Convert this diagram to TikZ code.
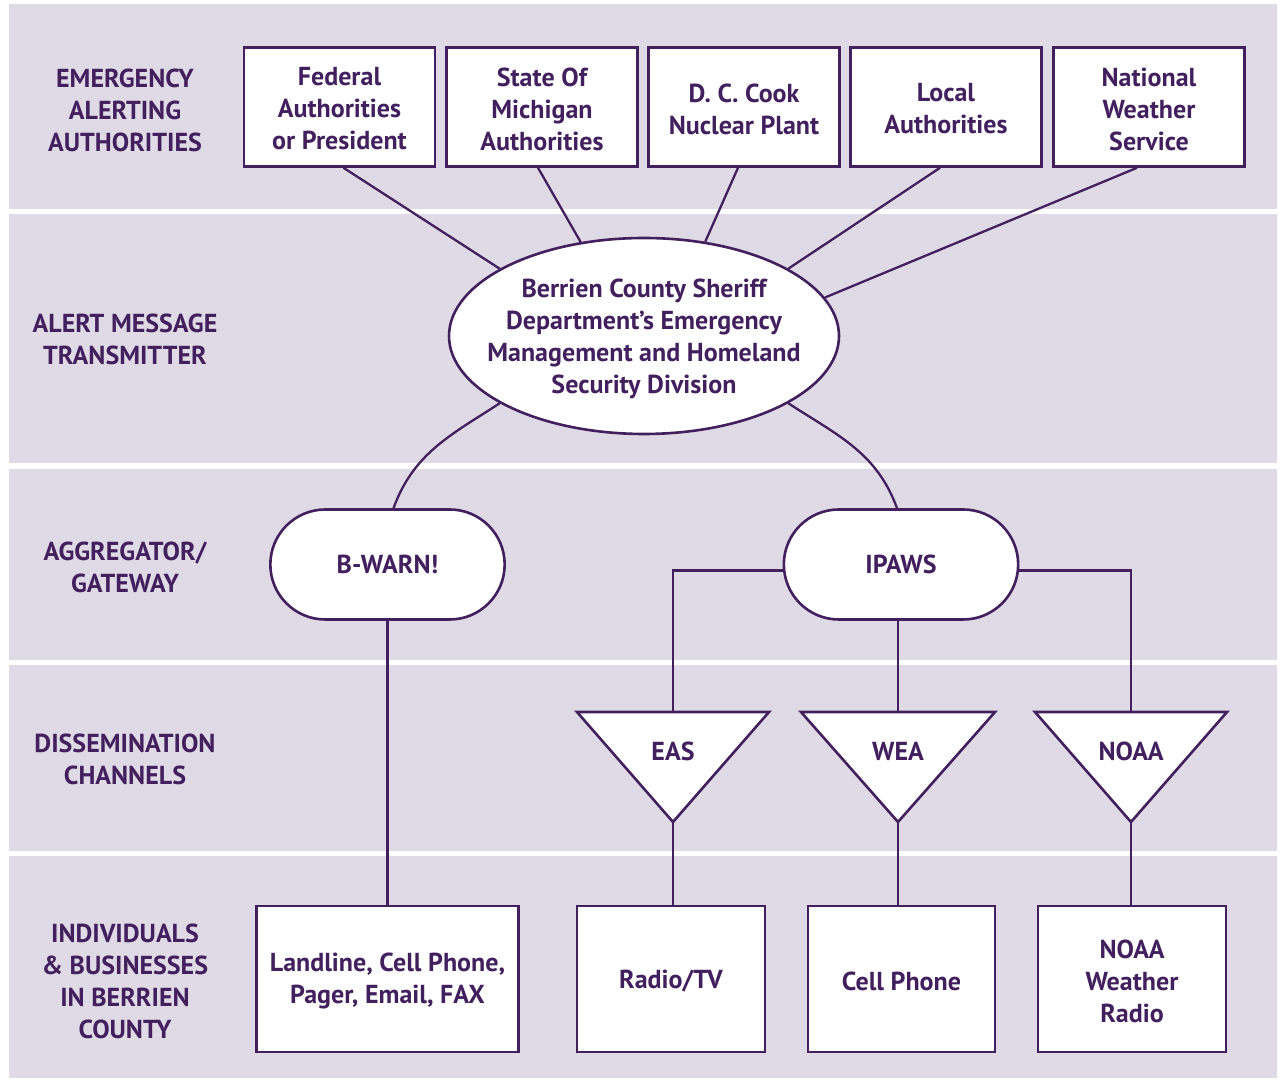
\documentclass[tikz,border=0pt]{standalone}
\usepackage{fontspec}
\setmainfont{PT Sans}
\usetikzlibrary{shapes.geometric,shapes.misc}
\definecolor{purp}{HTML}{42205E}
\definecolor{band}{HTML}{E0DAE6}
\begin{document}
\begin{tikzpicture}[x=1pt, y=1pt,
  every node/.style = {text=purp, font=\fontsize{26}{32}\selectfont\bfseries, align=center},
  box/.style = {rectangle, draw=purp, fill=white, line width=2.6pt, minimum width=#1, minimum height=119pt, inner sep=0pt},
  box/.default = 191pt,
  endbox/.style = {box=#1, minimum height=146pt},
  gate/.style = {rounded rectangle, draw=purp, fill=white, line width=2.6pt, minimum width=241pt, minimum height=110pt},
  oval/.style = {ellipse, draw=purp, fill=white, line width=2.6pt, minimum width=390pt, minimum height=196pt, inner sep=0pt},
  chan/.style = {draw=purp, fill=white, line width=2.6pt, line join=miter},
  link/.style = {draw=purp, line width=2.3pt}]

% Bands
\fill[white] (0,0) rectangle (1282,1081);
\fill[band] (9,872) rectangle (1277,1077);
\fill[band] (9,618) rectangle (1277,867);
\fill[band] (9,421) rectangle (1277,612);
\fill[band] (9,230) rectangle (1277,416);
\fill[band] (9,3) rectangle (1277,225);
\useasboundingbox (0,0) rectangle (1282,1081);

% Row labels
\node (rowauth) at (125,971) {EMERGENCY\\ALERTING\\AUTHORITIES};
\node (rowtrans) at (125,742) {ALERT MESSAGE\\TRANSMITTER};
\node (rowgate) at (125,514) {AGGREGATOR/\\GATEWAY};
\node (rowchan) at (125,322) {DISSEMINATION\\CHANNELS};
\node (rowpeople) at (125,100) {INDIVIDUALS\\\& BUSINESSES\\IN BERRIEN\\COUNTY};

% Authorities
\node[box] (federal) at (339.5,974) {};
\node[box] (state) at (542,974) {};
\node[box] (cook) at (744,974) {};
\node[box] (local) at (946,974) {};
\node[box] (nws) at (1149,974) {};
\node (federaltext) at ([yshift=-2pt]federal.center) {Federal\\Authorities\\or President};
\node (statetext) at ([yshift=-2pt]state.center) {State Of\\Michigan\\Authorities};
\node (cooktext) at ([yshift=-2pt]cook.center) {D. C. Cook\\Nuclear Plant};
\node (localtext) at ([yshift=-2pt]local.center) {Local\\Authorities};
\node (nwstext) at ([yshift=-2pt]nws.center) {National\\Weather\\Service};

% Transmitter
\node[oval] (sheriff) at (644,745) {};
\node (sherifftext) at ([yshift=-3pt]sheriff.center) {Berrien County Sheriff\\Department’s Emergency\\Management and Homeland\\Security Division};

% Gateways
\node[gate] (bwarn) at (387.5,516.5) {B-WARN!};
\node[gate] (ipaws) at (901,516.5) {IPAWS};

% Channels
\draw[chan] (577,369) -- (769,369) -- (673,259) -- cycle;
\draw[chan] (801,369) -- (995,369) -- (898,259) -- cycle;
\draw[chan] (1035,369) -- (1227,369) -- (1131,259) -- cycle;
\coordinate (eastop) at (673,369);
\coordinate (eastip) at (673,259);
\coordinate (weatop) at (898,369);
\coordinate (weatip) at (898,259);
\coordinate (noaatop) at (1131,369);
\coordinate (noaatip) at (1131,259);
\node (eas) at (673,330) {EAS};
\node (wea) at (898,330) {WEA};
\node (noaa) at (1131,330) {NOAA};

% Receivers
\node[endbox=262pt] (landline) at (387.5,102) {};
\node[endbox=188pt] (radiotv) at (671,102) {};
\node[endbox=187pt] (cellphone) at (901.5,102) {};
\node[endbox=188pt] (weatherradio) at (1132,102) {};
\node (landlinetext) at ([yshift=-2pt]landline.center) {Landline, Cell Phone,\\Pager, Email, FAX};
\node (radiotvtext) at ([yshift=-2pt]radiotv.center) {Radio/TV};
\node (cellphonetext) at ([yshift=-2pt]cellphone.center) {Cell Phone};
\node (weatherradiotext) at ([yshift=-2pt]weatherradio.center) {NOAA\\Weather\\Radio};

% Links
\draw[link] ([xshift=4pt]federal.south) -- (sheriff.155);
\draw[link] ([xshift=-4pt]state.south) -- (sheriff.124);
\draw[link] ([xshift=-6pt]cook.south) -- (sheriff.57);
\draw[link] ([xshift=-6pt]local.south) -- (sheriff.25);
\draw[link] ([xshift=-12pt]nws.south) -- (sheriff.12);
\draw[link] (sheriff.205) to[out=213, in=70] ([xshift=6pt]bwarn.north);
\draw[link] (sheriff.335) to[out=-33, in=110] ([xshift=-4pt]ipaws.north);
\draw[link] ([yshift=-6pt]ipaws.west) -| (eastop);
\draw[link] (ipaws.south -| weatop) -- (weatop);
\draw[link] ([yshift=-6pt]ipaws.east) -| (noaatop);
\draw[link] (bwarn.south) -- (landline.north);
\draw[link] (eastip) -- (eastip |- radiotv.north);
\draw[link] (weatip) -- (weatip |- cellphone.north);
\draw[link] (noaatip) -- (noaatip |- weatherradio.north);

\end{tikzpicture}
\end{document}
